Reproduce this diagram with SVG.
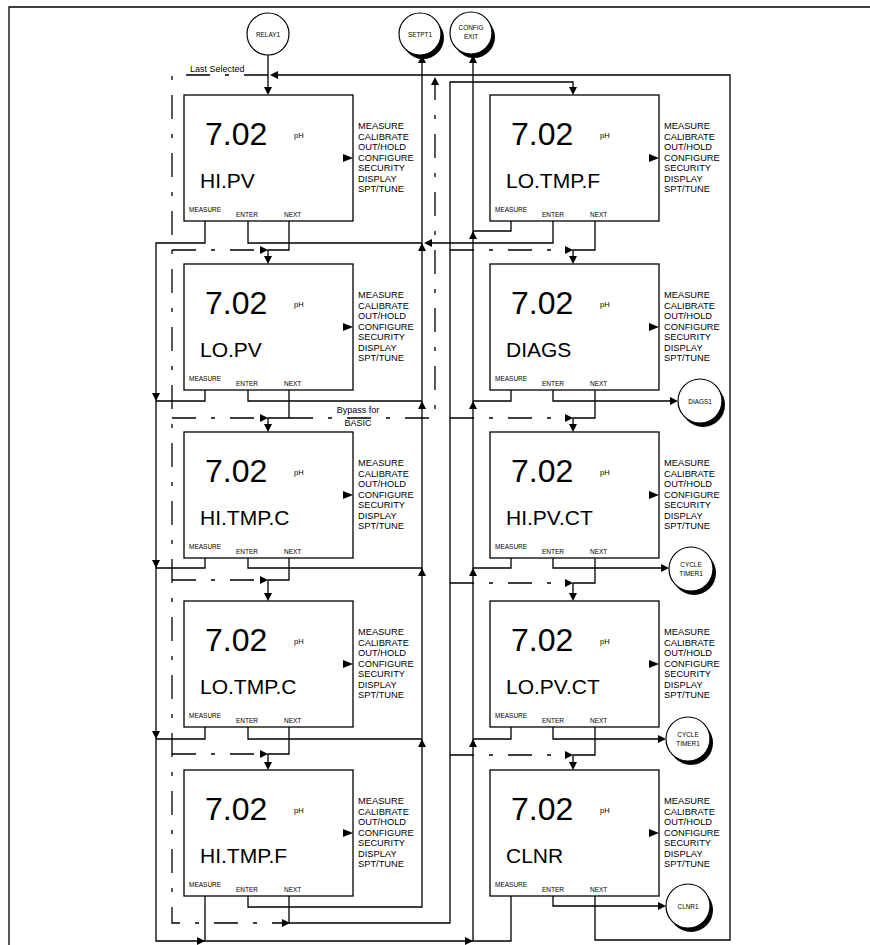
<svg xmlns="http://www.w3.org/2000/svg" xmlns:xlink="http://www.w3.org/1999/xlink" width="870" height="945" viewBox="0 0 870 945">
<style>
.bx{fill:#fff;stroke:#000;stroke-width:1.3}
.ln{fill:none;stroke:#000;stroke-width:1.3}
.dd{fill:none;stroke:#000;stroke-width:1.3;stroke-dasharray:24 15 4 15}
.t{font-family:"Liberation Sans",Arial,sans-serif;fill:#000}
.big{font-size:32px}
.nm{font-size:21px}
.mn{font-size:9.3px}
.bt{font-size:6.5px}
.ph{font-size:7.5px}
.cl{font-size:6.4px;text-anchor:middle}
.lb{font-size:9px}
.sh{fill:#000}
.cc{fill:#fff;stroke:#000;stroke-width:1.2}
</style>
<defs>
<path id="ar" d="M0,0 L-8,-4 L-8,4 Z" fill="#000"/>
<g id="scr">
<rect class="bx" x="0" y="0" width="169" height="126"/>
<text class="t big" x="21" y="50">7.02</text>
<text class="t ph" x="110" y="43">pH</text>
<text class="t mn" x="174" y="34">MEASURE</text>
<text class="t mn" x="174" y="44.5">CALIBRATE</text>
<text class="t mn" x="174" y="55">OUT/HOLD</text>
<text class="t mn" x="174" y="65.5">CONFIGURE</text>
<text class="t mn" x="174" y="76">SECURITY</text>
<text class="t mn" x="174" y="86.5">DISPLAY</text>
<text class="t mn" x="174" y="97">SPT/TUNE</text>
<polygon points="159,59 169,63 159,67" fill="#000"/>
<text class="t bt" x="5" y="117">MEASURE</text>
<text class="t bt" x="52" y="122">ENTER</text>
<text class="t bt" x="100" y="122">NEXT</text>
</g>
</defs>

<path class="ln" d="M9,945 V7 H870"/>

<g id="connectors">
<!-- dash-dot paths -->
<path class="dd" d="M268,75 H172 V923 H283"/>
<path class="dd" d="M172,250 H261"/>
<path class="dd" d="M172,418 H261"/>
<path class="dd" d="M172,580 H261"/>
<path class="dd" d="M172,754 H261"/>
<path class="dd" d="M289,418 H435 V84"/>
<path class="dd" d="M450,250 H566"/>
<path class="dd" d="M450,418 H566"/>
<path class="dd" d="M450,583 H566"/>
<path class="dd" d="M450,755 H566"/>

<!-- relay -->
<path class="ln" d="M268,55 V90"/>
<!-- left MEASURE -->
<path class="ln" d="M205,221 V243 H156 V941 H511 V896"/>
<path class="ln" d="M205,390 V401 H156"/>
<path class="ln" d="M205,558 V568 H156"/>
<path class="ln" d="M205,727 V739 H156"/>
<path class="ln" d="M205,896 V941"/>
<!-- config exit line -->
<path class="ln" d="M473,941 V58"/>
<!-- right MEASURE -->
<path class="ln" d="M511,221 V231 H473"/>
<path class="ln" d="M511,390 V401 H473"/>
<path class="ln" d="M511,558 V568 H473"/>
<path class="ln" d="M511,727 V739 H473"/>
<!-- left ENTER to SETPT1 -->
<path class="ln" d="M248,221 V243 H422"/>
<path class="ln" d="M248,390 V401 H422"/>
<path class="ln" d="M248,558 V568 H422"/>
<path class="ln" d="M248,727 V739 H422"/>
<path class="ln" d="M248,896 V907 H422 V58"/>
<path class="ln" d="M553,221 V243 H428"/>
<!-- left NEXT -->
<path class="ln" d="M289,221 V250 H268 V258"/>
<path class="ln" d="M289,390 V418 H268 V426"/>
<path class="ln" d="M289,558 V580 H268 V595"/>
<path class="ln" d="M289,727 V754 H268 V764"/>
<path class="ln" d="M289,896 V923 H450 V82 H573 V89"/>
<!-- right NEXT -->
<path class="ln" d="M595,221 V250 H573 V258"/>
<path class="ln" d="M595,390 V418 H573 V426"/>
<path class="ln" d="M595,558 V583 H573 V595"/>
<path class="ln" d="M595,727 V755 H573 V764"/>
<path class="ln" d="M595,896 V940 H730 V75 H276"/>
<!-- right ENTER -->
<path class="ln" d="M553,390 V401 H672"/>
<path class="ln" d="M553,558 V568 H663"/>
<path class="ln" d="M553,727 V739 H660"/>
<path class="ln" d="M553,896 V906 H660"/>

<!-- arrowheads -->
<use xlink:href="#ar" transform="translate(268,95) rotate(90)"/>
<use xlink:href="#ar" transform="translate(270,75) rotate(180)"/>
<use xlink:href="#ar" transform="translate(435,77) rotate(-90)"/>
<use xlink:href="#ar" transform="translate(422,55) rotate(-90)"/>
<use xlink:href="#ar" transform="translate(473,55) rotate(-90)"/>
<use xlink:href="#ar" transform="translate(156,401) rotate(90)"/>
<use xlink:href="#ar" transform="translate(156,568) rotate(90)"/>
<use xlink:href="#ar" transform="translate(156,739) rotate(90)"/>
<use xlink:href="#ar" transform="translate(205,941)"/>
<use xlink:href="#ar" transform="translate(473,941)"/>
<use xlink:href="#ar" transform="translate(422,243) rotate(-90)"/>
<use xlink:href="#ar" transform="translate(422,401) rotate(-90)"/>
<use xlink:href="#ar" transform="translate(422,568) rotate(-90)"/>
<use xlink:href="#ar" transform="translate(422,739) rotate(-90)"/>
<use xlink:href="#ar" transform="translate(424,243) rotate(180)"/>
<use xlink:href="#ar" transform="translate(473,231) rotate(-90)"/>
<use xlink:href="#ar" transform="translate(473,401) rotate(-90)"/>
<use xlink:href="#ar" transform="translate(473,568) rotate(-90)"/>
<use xlink:href="#ar" transform="translate(473,739) rotate(-90)"/>
<use xlink:href="#ar" transform="translate(268,250)"/>
<use xlink:href="#ar" transform="translate(268,418)"/>
<use xlink:href="#ar" transform="translate(268,580)"/>
<use xlink:href="#ar" transform="translate(268,754)"/>
<use xlink:href="#ar" transform="translate(290,923)"/>
<use xlink:href="#ar" transform="translate(268,264) rotate(90)"/>
<use xlink:href="#ar" transform="translate(268,432) rotate(90)"/>
<use xlink:href="#ar" transform="translate(268,601) rotate(90)"/>
<use xlink:href="#ar" transform="translate(268,770) rotate(90)"/>
<use xlink:href="#ar" transform="translate(573,95) rotate(90)"/>
<use xlink:href="#ar" transform="translate(573,264) rotate(90)"/>
<use xlink:href="#ar" transform="translate(573,432) rotate(90)"/>
<use xlink:href="#ar" transform="translate(573,601) rotate(90)"/>
<use xlink:href="#ar" transform="translate(573,770) rotate(90)"/>
<use xlink:href="#ar" transform="translate(573,250)"/>
<use xlink:href="#ar" transform="translate(573,418)"/>
<use xlink:href="#ar" transform="translate(573,583)"/>
<use xlink:href="#ar" transform="translate(573,755)"/>
<use xlink:href="#ar" transform="translate(678,401)"/>
<use xlink:href="#ar" transform="translate(669,568)"/>
<use xlink:href="#ar" transform="translate(666,739)"/>
<use xlink:href="#ar" transform="translate(666,906)"/>
</g>

<text class="t lb" x="190" y="72">Last Selected</text>
<text class="t lb" x="358" y="413" text-anchor="middle">Bypass for</text>
<text class="t lb" x="358" y="426" text-anchor="middle">BASIC</text>

<g id="relay1"><circle class="cc" cx="268" cy="34" r="21"/><text class="t cl" x="268" y="36.5">RELAY1</text></g>
<g id="setpt1"><circle class="sh" cx="423" cy="38" r="21"/><circle class="cc" cx="420" cy="34" r="21"/><text class="t cl" x="420" y="36.5">SETPT1</text></g>
<g id="configexit"><circle class="sh" cx="474" cy="37" r="21"/><circle class="cc" cx="471" cy="33" r="21"/><text class="t cl" x="471" y="30">CONFIG</text><text class="t cl" x="471" y="39">EXIT</text></g>
<g id="diags1"><circle class="sh" cx="703" cy="405" r="22"/><circle class="cc" cx="700" cy="401" r="22"/><text class="t cl" x="700" y="403.5">DIAGS1</text></g>
<g id="cycletimer1a"><circle class="sh" cx="694" cy="573" r="22"/><circle class="cc" cx="691" cy="569" r="22"/><text class="t cl" x="691" y="567">CYCLE</text><text class="t cl" x="691" y="576">TIMER1</text></g>
<g id="cycletimer1b"><circle class="sh" cx="691" cy="743" r="22"/><circle class="cc" cx="688" cy="739" r="22"/><text class="t cl" x="688" y="737">CYCLE</text><text class="t cl" x="688" y="746">TIMER1</text></g>
<g id="clnr1"><circle class="sh" cx="691" cy="910" r="22"/><circle class="cc" cx="688" cy="906" r="22"/><text class="t cl" x="688" y="908.5">CLNR1</text></g>

<g id="hipv"><use xlink:href="#scr" x="184" y="95"/><text class="t nm" x="200" y="188">HI.PV</text></g>
<g id="lopv"><use xlink:href="#scr" x="184" y="264"/><text class="t nm" x="200" y="357">LO.PV</text></g>
<g id="hitmpc"><use xlink:href="#scr" x="184" y="432"/><text class="t nm" x="200" y="525">HI.TMP.C</text></g>
<g id="lotmpc"><use xlink:href="#scr" x="184" y="601"/><text class="t nm" x="200" y="694">LO.TMP.C</text></g>
<g id="hitmpf"><use xlink:href="#scr" x="184" y="770"/><text class="t nm" x="200" y="863">HI.TMP.F</text></g>
<g id="lotmpf"><use xlink:href="#scr" x="490" y="95"/><text class="t nm" x="506" y="188">LO.TMP.F</text></g>
<g id="diags"><use xlink:href="#scr" x="490" y="264"/><text class="t nm" x="506" y="357">DIAGS</text></g>
<g id="hipvct"><use xlink:href="#scr" x="490" y="432"/><text class="t nm" x="506" y="525">HI.PV.CT</text></g>
<g id="lopvct"><use xlink:href="#scr" x="490" y="601"/><text class="t nm" x="506" y="694">LO.PV.CT</text></g>
<g id="clnr"><use xlink:href="#scr" x="490" y="770"/><text class="t nm" x="506" y="863">CLNR</text></g>
</svg>
